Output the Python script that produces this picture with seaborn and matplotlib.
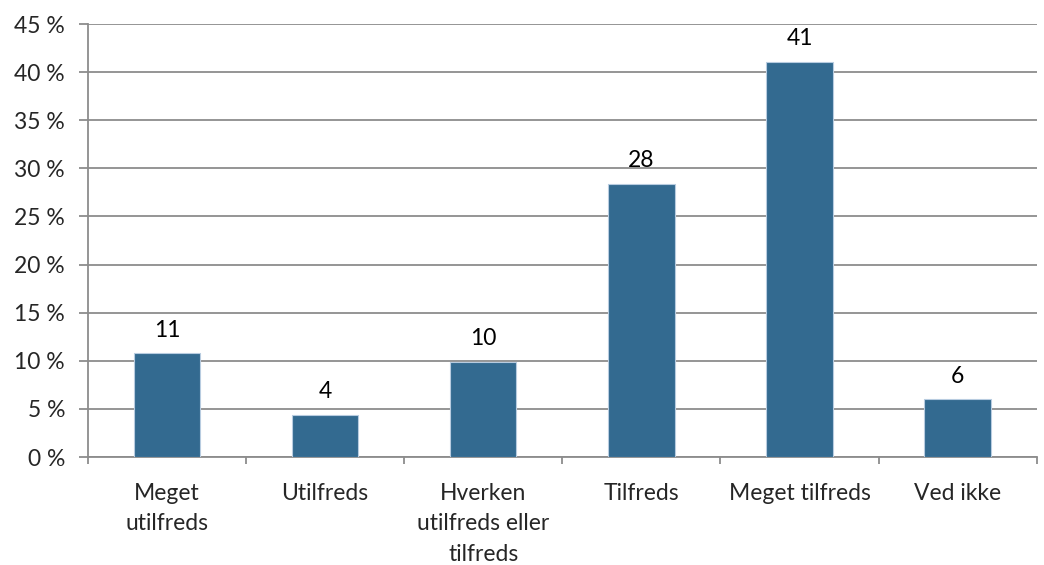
import matplotlib
matplotlib.use("Agg")
import matplotlib.pyplot as plt
import seaborn as sns
import pandas as pd
import numpy as np

categories = ["Meget\nutilfreds", "Utilfreds", "Hverken\nutilfreds eller\ntilfreds",
              "Tilfreds", "Meget tilfreds", "Ved ikke"]
values = [10.8, 4.4, 9.9, 28.4, 41.1, 6.0]
yticks = [0, 5, 10, 15, 20, 25, 30, 35, 40, 45]
ytick_labels = [f"{v} %" for v in yticks]

sns.set_theme(style="white")
plt.rcParams['font.family'] = ['Lato', 'DejaVu Sans']

FS = 16.5
df = pd.DataFrame({"cat": categories, "val": values})

fig = plt.figure(figsize=(10.44, 5.65), dpi=100)
ax = fig.add_axes([0.0843, 0.191, 0.9087, 0.7665])

sns.barplot(data=df, x="cat", y="val", color="#336A90", saturation=1,
            width=0.42, edgecolor="#B8CCE0", linewidth=0.8, ax=ax, zorder=3)

for c in ax.containers:
    ax.bar_label(c, labels=[f"{v:.0f}" for v in values], padding=9, fontsize=FS, color="black")

ax.set_ylim(0, 45)
ax.set_xlim(-0.5, len(categories) - 0.5)
ax.set_yticks(yticks)
ax.set_yticklabels(ytick_labels, fontsize=FS)
ax.set_xticks(range(len(categories)))
ax.set_xticklabels(categories, fontsize=FS, linespacing=1.56)
ax.set_xlabel("")
ax.set_ylabel("")

ax.yaxis.grid(True, color="#8C8C8C", linewidth=1.3, zorder=0)
ax.set_axisbelow(True)
for s in ["top", "right"]:
    ax.spines[s].set_visible(False)
for s in ["left", "bottom"]:
    ax.spines[s].set_color("#8C8C8C")
    ax.spines[s].set_linewidth(1.3)

ax.tick_params(axis="y", which="major", length=6.5, width=1.3, color="#8C8C8C", direction="out", left=True, pad=10)
ax.tick_params(axis="x", which="major", length=0, pad=18.5)
ax.set_xticks(np.arange(-0.5, len(categories) + 0.5, 1), minor=True)
ax.tick_params(axis="x", which="minor", length=5, width=1.3, color="#8C8C8C", direction="out", bottom=True)

fig.savefig("out.png", dpi=100)
